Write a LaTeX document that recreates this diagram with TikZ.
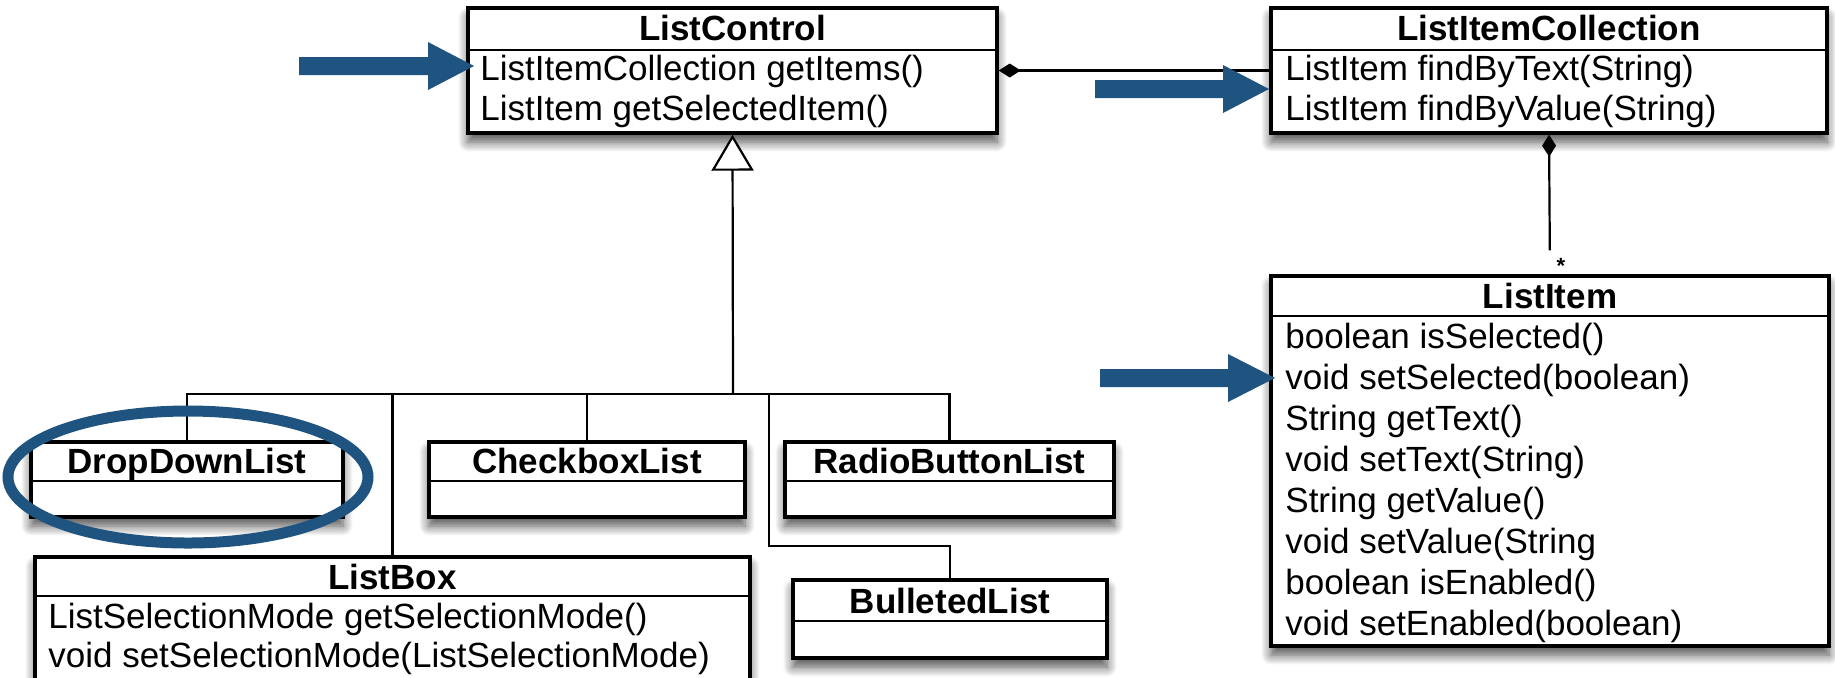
\documentclass[tikz,border=0pt]{standalone}
\usepackage{fontspec}
\setmainfont{Liberation Sans}
\usetikzlibrary{arrows.meta,fit,shadows.blur}
\definecolor{annot}{RGB}{32,84,128}
\begin{document}
\begin{tikzpicture}[x=0.5pt,y=-0.5pt,
  cls/.style={draw, line width=1.7pt, fill=white, inner sep=0pt,
    blur shadow={shadow xshift=0pt, shadow yshift=-4.5pt, shadow blur radius=5pt, shadow blur steps=10, shadow opacity=70}},
  sepline/.style={line width=1.4pt},
  ttl/.style={font=\fontsize{17.5}{20}\selectfont\bfseries, anchor=base, inner sep=0pt},
  row/.style={font=\fontsize{17.5}{20}\selectfont, anchor=base west, inner sep=0pt},
  conn/.style={line width=1.1pt},
  comp/.style={conn, {Diamond[length=11pt,width=7pt]}-},
  gen/.style={conn, -{Triangle[open,fill=white,length=18pt,width=21pt]}},
  annotarrow/.style={fill=annot},
  annotring/.style={draw=annot, line width=5.5pt}]
\useasboundingbox (0,0) rectangle (1835,677);
\clip (0,0) rectangle (1835,677);

% ---- ListControl
\node[cls, fit={(468,8) (997,133)}] (lc) {};
\draw[sepline] (468,50) -- (997,50);
\node[ttl] (lct) at (732.5,40) {ListControl};
\node[row] (lc1) at (480,80) {ListItemCollection getItems()};
\node[row] (lc2) at (480,120) {ListItem getSelectedItem()};

% ---- ListItemCollection
\node[cls, fit={(1271,8) (1827,133)}] (lic) {};
\draw[sepline] (1271,50) -- (1827,50);
\node[ttl] (lict) at (1549,40) {ListItemCollection};
\node[row] (lic1) at (1285,80) {ListItem findByText(String)};
\node[row] (lic2) at (1285,120) {ListItem findByValue(String)};

% ---- ListItem
\node[cls, fit={(1271,276) (1829,646)}] (li) {};
\draw[sepline] (1271,316) -- (1829,316);
\node[ttl] (lit) at (1550,308) {ListItem};
\node[row] (li1) at (1285,348) {boolean isSelected()};
\node[row] (li2) at (1285,389) {void setSelected(boolean)};
\node[row] (li3) at (1285,430) {String getText()};
\node[row] (li4) at (1285,471) {void setText(String)};
\node[row] (li5) at (1285,512) {String getValue()};
\node[row] (li6) at (1285,553) {void setValue(String};
\node[row] (li7) at (1285,594) {boolean isEnabled()};
\node[row] (li8) at (1285,635) {void setEnabled(boolean)};

% ---- DropDownList
\node[cls, fit={(31,442) (343,517)}] (ddl) {};
\draw[sepline] (31,481) -- (343,481);
\node[ttl] (ddlt) at (187,473) {DropDownList};

% ---- CheckboxList
\node[cls, fit={(429,442) (745,517)}] (cbl) {};
\draw[sepline] (429,481) -- (745,481);
\node[ttl] (cblt) at (587,473) {CheckboxList};

% ---- RadioButtonList
\node[cls, fit={(785,442) (1114,517)}] (rbl) {};
\draw[sepline] (785,481) -- (1114,481);
\node[ttl] (rblt) at (949.5,473) {RadioButtonList};

% ---- ListBox
\node[cls, fit={(35,557) (750,740)}] (lb) {};
\draw[sepline] (35,596) -- (750,596);
\node[ttl] (lbt) at (392.5,589) {ListBox};
\node[row] (lb1) at (48,628) {ListSelectionMode getSelectionMode()};
\node[row] (lb2) at (48,667) {void setSelectionMode(ListSelectionMode)};

% ---- BulletedList
\node[cls, fit={(793,580) (1107,658)}] (bl) {};
\draw[sepline] (793,621) -- (1107,621);
\node[ttl] (blt) at (950,613) {BulletedList};

% ---- connectors
\draw[comp] (lc.east) -- (lic.west);
\draw[comp, shorten >=12pt] (lic.south) -- (li.north);
\node[font=\fontsize{11}{12}\selectfont\bfseries, inner sep=0pt] (star) at (1561,266) {*};

\coordinate (bus) at (733,394);
\coordinate (k1) at (769,394);
\coordinate (k2) at (769,546);
\draw[gen] (bus) -- (lc.south);
\draw[conn] (ddl.north) -- (ddl.north |- bus) -- (rbl.north |- bus) -- (rbl.north);
\draw[conn] (lb.north) -- (lb.north |- bus);
\draw[conn] (cbl.north) -- (cbl.north |- bus);
\draw[conn] (k1) -- (k2) -- (k2 -| bl.north) -- (bl.north);

% ---- annotations
\fill[annotarrow] (299,57) -- (428,57) -- (428,42) -- (474,66) -- (428,90) -- (428,75) -- (299,75) -- cycle;
\fill[annotarrow] (1095,80) -- (1223,80) -- (1223,65) -- (1269,89) -- (1223,113) -- (1223,98) -- (1095,98) -- cycle;
\fill[annotarrow] (1100,369) -- (1228,369) -- (1228,354) -- (1275,378) -- (1228,402) -- (1228,387) -- (1100,387) -- cycle;
\draw[annotring] (188,477) ellipse [x radius=180, y radius=66];
\end{tikzpicture}
\end{document}
